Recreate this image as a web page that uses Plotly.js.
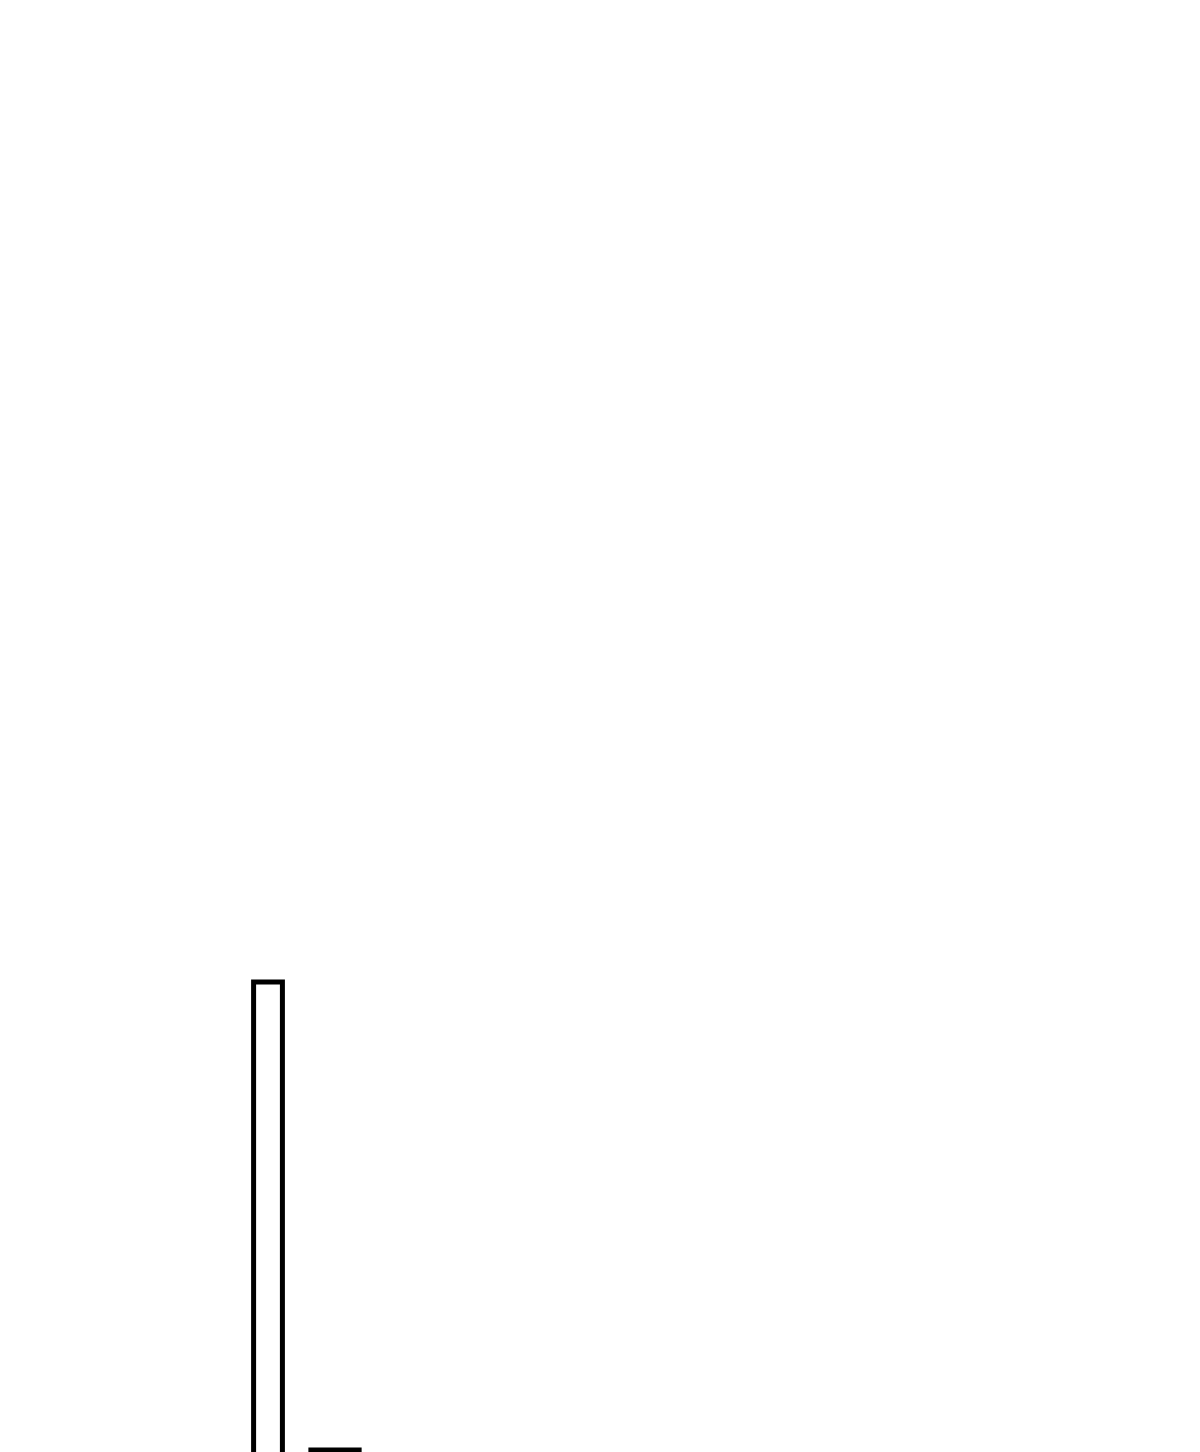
<!DOCTYPE html>
<html>
<head>
<meta charset="utf-8">
<script src="https://cdn.plot.ly/plotly-3.0.1.min.js"></script>
<style>
  html, body { margin: 0; padding: 0; background: #ffffff; overflow: hidden; }
  #chart { width: 1200px; height: 2000px; }
</style>
</head>
<body>
<div id="chart"></div>
<script>
// only the top of two bars shows in the picture
var positions = [4, 5];
var values = [100, 50];
var widths = [0.43, 0.72];

var data = [
  {
    type: "bar",
    x: positions,
    y: values,
    width: widths,
    marker: {
      color: "#ffffff",
      line: { color: "#000000", width: 5 }
    },
    hoverinfo: "none"
  }
];

var hidden = {
  showticklabels: false,
  showgrid: false,
  zeroline: false,
  showline: false,
  ticks: ""
};

var layout = {
  width: 1200,
  height: 2000,
  margin: { l: 0, r: 0, t: 0, b: 82 },
  paper_bgcolor: "#ffffff",
  plot_bgcolor: "#ffffff",
  showlegend: false,
  xaxis: Object.assign({ range: [0, 17.91] }, hidden),
  yaxis: Object.assign({ range: [0, 204.9] }, hidden)
};

Plotly.newPlot("chart", data, layout, { staticPlot: true, displayModeBar: false });
</script>
</body>
</html>
